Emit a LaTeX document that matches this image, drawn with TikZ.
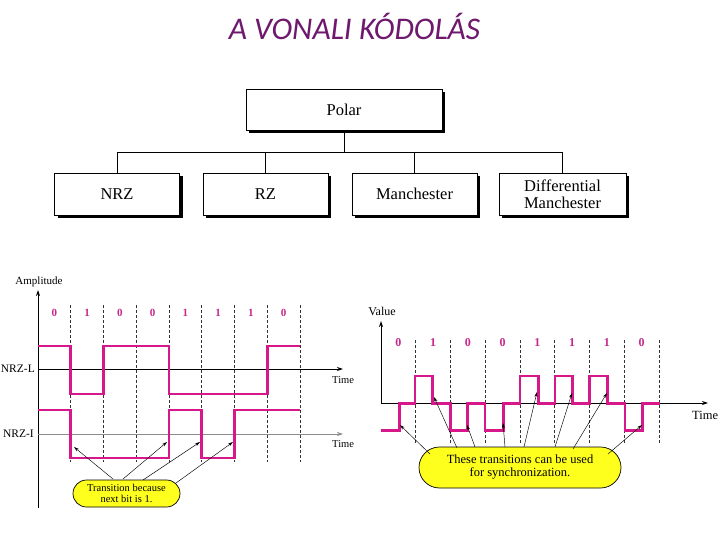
\documentclass[tikz,border=0pt]{standalone}
\usepackage{fontspec}
\setmainfont{Liberation Serif}
\newfontfamily\titlefont{Carlito}
\usetikzlibrary{arrows.meta,shadows,calc}
\definecolor{wpink}{RGB}{214,24,138}
\definecolor{bitpink}{RGB}{200,40,140}
\definecolor{tpurple}{RGB}{110,25,110}
\definecolor{cyell}{RGB}{255,255,30}
\begin{document}
\begin{tikzpicture}[x=1pt,y=-1pt,
  treebox/.style={draw=black,line width=0.8pt,fill=white,inner sep=0pt,align=center,
    font=\fontsize{16.5}{18}\selectfont,
    drop shadow={shadow xshift=3pt,shadow yshift=-3pt,opacity=1,fill=black}},
  treeline/.style={line width=0.9pt,black},
  axis/.style={line width=1pt,black,-{Stealth[length=6pt,width=4pt]}},
  grayaxis/.style={line width=0.8pt,black!45,-{Stealth[length=6pt,width=4pt]}},
  cellline/.style={dashed,line width=0.7pt,black!80,dash pattern=on 3pt off 2pt},
  wave/.style={line width=2.6pt,wpink,line join=miter,line cap=butt},
  bitL/.style={text=bitpink,font=\fontsize{11}{11}\selectfont\bfseries,inner sep=0pt},
  bitR/.style={text=bitpink,font=\fontsize{12}{12}\selectfont\bfseries,inner sep=0pt},
  lbl/.style={inner sep=0pt,font=\fontsize{11}{11}\selectfont},
  callout/.style={draw=black,line width=0.7pt,fill=cyell,align=center,inner sep=0pt},
  conn/.style={line width=0.45pt,black,-{Stealth[length=5pt,width=3pt]}}
]
\useasboundingbox (0,0) rectangle (720,540);
\fill[white] (0,0) rectangle (720,540);

% Title
\node[text=tpurple,font=\titlefont\itshape\fontsize{31.5}{31.5}\selectfont,inner sep=0pt] (title) at (354.5,26) {A VONALI KÓDOLÁS};

% Tree
\node[treebox,minimum width=196pt,minimum height=41pt] (polar) at (344,110) {Polar};
\node[treebox,minimum width=125pt,minimum height=42pt] (nrz) at (117,194) {NRZ};
\node[treebox,minimum width=125pt,minimum height=42pt] (rz) at (265.5,194) {RZ};
\node[treebox,minimum width=125pt,minimum height=42pt] (man) at (414.5,194) {Manchester};
\node[treebox,minimum width=127pt,minimum height=42pt] (dman) at (562.5,194) {Differential\\[-1pt]Manchester};
\foreach \c in {nrz,rz,man,dman}
  \draw[treeline] (polar.south) -- ++(0,21.5) -| (\c.north);

% ---------- Left diagram: NRZ-L / NRZ-I ----------
\coordinate (la0) at (38,508);
\coordinate (la1) at (38,290);
\draw[axis] (la0) -- (la1);
\node[lbl,anchor=south] (amp) at (39,287) {Amplitude};

\foreach \i in {1,...,8}
  \draw[cellline] ({38+32.75*\i},305) -- ({38+32.75*\i},462);
\foreach \b [count=\i] in {0,1,0,0,1,1,1,0}
  \node[bitL] (lb\i) at ({38+32.75*(\i-0.5)},313) {\b};

\coordinate (lL0) at (38,369);
\coordinate (lL1) at (343,369);
\draw[axis] (lL0) -- (lL1);
\coordinate (lI0) at (38,434);
\coordinate (lI1) at (343,434);
\draw[grayaxis] (lI0) -- (lI1);
\node[lbl,anchor=east,font=\fontsize{11.5}{11.5}\selectfont] (nrzl) at (35,369) {NRZ-L};
\node[lbl,anchor=east,font=\fontsize{11.5}{11.5}\selectfont] (nrzi) at (34,434) {NRZ-I};
\node[lbl,anchor=west,font=\fontsize{10.5}{10.5}\selectfont] (timeL1) at (332,380) {Time};
\node[lbl,anchor=west,font=\fontsize{10.5}{10.5}\selectfont] (timeL2) at (332,444) {Time};

\draw[wave] (38,346) -- (70.75,346) -- (70.75,394) -- (103.5,394) -- (103.5,346) -- (169,346)
  -- (169,394) -- (267.25,394) -- (267.25,346) -- (300,346);
\draw[wave] (38,410) -- (70.75,410) -- (70.75,458) -- (169,458) -- (169,410) -- (201.75,410)
  -- (201.75,458) -- (234.5,458) -- (234.5,410) -- (300,410);

\node[callout,minimum width=107pt,minimum height=27pt,rounded corners=13.5pt,
  font=\fontsize{10.5}{10.8}\selectfont] (cl) at (126.5,493.5) {Transition because\\next bit is 1.};
\coordinate (cls1) at (113,479);
\coordinate (cls2) at (123,479);
\coordinate (cls3) at (143,480);
\coordinate (cls4) at (176,483);
\coordinate (clt1) at (74,447);
\coordinate (clt2) at (167,442);
\coordinate (clt3) at (200,442);
\coordinate (clt4) at (233,442);
\foreach \k in {1,...,4} \draw[conn] (cls\k) -- (clt\k);

% ---------- Right diagram: Manchester ----------
\coordinate (ra0) at (381,403);
\coordinate (ra1) at (381,321);
\coordinate (ra2) at (708,403);
\draw[axis] (ra0) -- (ra1);
\draw[axis] (ra0) -- (ra2);
\node[lbl,font=\fontsize{12}{12}\selectfont,anchor=south] (value) at (382,316) {Value};
\node[lbl,font=\fontsize{12.5}{12.5}\selectfont,anchor=west] (timeR) at (692,415) {Time};

\foreach \i in {1,...,8}
  \draw[cellline] ({381+34.75*\i},340) -- ({381+34.75*\i},443);
\foreach \b [count=\i] in {0,1,0,0,1,1,1,0}
  \node[bitR] (rb\i) at ({381+34.75*(\i-0.5)},343) {\b};

\draw[wave] (380.7,430.7) -- (399.3,430.7) -- (399.3,403.3) -- (415,403.3) -- (415,376)
  -- (432.7,376) -- (432.7,403.3) -- (450.7,403.3) -- (450.7,430.7) -- (467.3,430.7)
  -- (467.3,403.3) -- (485,403.3) -- (485,430.7) -- (503.3,430.7) -- (503.3,403.3)
  -- (520,403.3) -- (520,376) -- (538.3,376) -- (538.3,403.3) -- (555,403.3) -- (555,376)
  -- (572.7,376) -- (572.7,403.3) -- (589.3,403.3) -- (589.3,376) -- (607.3,376)
  -- (607.3,403.3) -- (625,403.3) -- (625,430.7) -- (642.7,430.7) -- (642.7,403.3) -- (660,403.3);

\node[callout,minimum width=202pt,minimum height=41pt,rounded corners=20.5pt,
  font=\fontsize{12.5}{13}\selectfont] (cr) at (520,467.5) {These transitions can be used\\for synchronization.};
\coordinate (crs1) at (430,454);
\coordinate (crs2) at (457,448);
\coordinate (crs3) at (475,447);
\coordinate (crs4) at (505,447);
\coordinate (crs5) at (524,447);
\coordinate (crs6) at (555,447);
\coordinate (crs7) at (573,449);
\coordinate (crs8) at (608,454);
\coordinate (crt1) at (400,425);
\coordinate (crt2) at (434,397);
\coordinate (crt3) at (467,425);
\coordinate (crt4) at (503,423);
\coordinate (crt5) at (537,392);
\coordinate (crt6) at (572,393);
\coordinate (crt7) at (607,393);
\coordinate (crt8) at (642,425);
\foreach \k in {1,...,8} \draw[conn] (crs\k) -- (crt\k);
\end{tikzpicture}
\end{document}
